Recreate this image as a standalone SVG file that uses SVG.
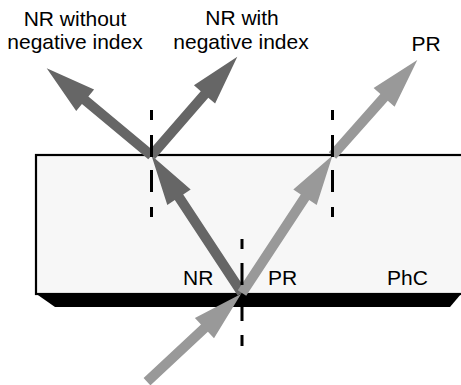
<svg xmlns="http://www.w3.org/2000/svg" width="461" height="385" viewBox="0 0 461 385">
<style>
text{font-family:"Liberation Sans",Arial,sans-serif;font-size:21px;fill:#000}
.dark{fill:#666666}
.light{fill:#999999}
.dash{stroke:#000;stroke-width:3;fill:none}
</style>
<rect width="461" height="385" fill="#ffffff"/>
<g id="crystal">
<rect x="36" y="155" width="440" height="139" fill="#f7f7f7" stroke="#000" stroke-width="2.2"/>
<polygon points="35,293 461,293 461,294 450,307 55,307" fill="#000"/>
<text x="183" y="285">NR</text>
<text x="268" y="285">PR</text>
<text x="387" y="285">PhC</text>
</g>
<g id="label-nr-without">
<text x="75" y="25.5" text-anchor="middle">NR without</text>
<text x="75" y="48.5" text-anchor="middle">negative index</text>
</g>
<g id="label-nr-with">
<text x="242" y="25" text-anchor="middle">NR with</text>
<text x="241" y="49" text-anchor="middle">negative index</text>
</g>
<g id="label-pr">
<text x="426" y="51" text-anchor="middle">PR</text>
</g>
<g id="connectors">
<polygon class="light" points="150.4,385.4 207.9,331.8 214.0,338.3 241,294 194.9,317.9 201.0,324.4 143.6,378.0"/>
<polygon class="dark" points="246.2,290.3 183.2,194.5 190.7,189.6 151.5,155.5 167.3,205.0 174.8,200.0 237.8,295.8"/>
<polygon class="light" points="246.2,295.8 309.2,200.0 316.7,205.0 332.5,155.5 293.3,189.6 300.8,194.5 237.8,290.3"/>
<polygon class="dark" points="154.7,151.7 88.35,96.45 94.1,89.5 46.7,68.3 76.2,111.05 81.95,104.1 148.3,159.3"/>
<polygon class="dark" points="155.3,158.8 208.3,97.7 215.1,103.6 237.3,56.7 193.95,85.26 200.75,91.16 147.7,152.2"/>
<polygon class="light" points="336.2,158.8 387.8,100.7 394.6,106.7 417.3,60 373.6,88.1 380.4,94.1 328.8,152.2"/>
</g>
<g id="normals">
<path class="dash" d="M151.5,110V120M151.5,135V157M151.5,170V192M151.5,207V217"/>
<path class="dash" d="M332.5,110V120M332.5,135V157M332.5,170V192M332.5,207V217"/>
<path class="dash" d="M242,239V249M242,263V285M242,299V321M242,335V346"/>
</g>
</svg>
